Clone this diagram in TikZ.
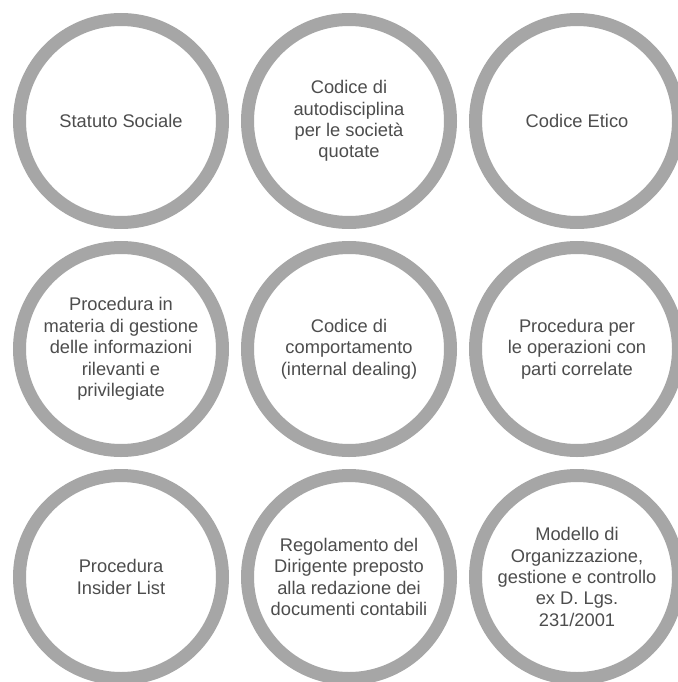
\documentclass[tikz,border=0pt]{standalone}
\usepackage{fontspec}
\setmainfont{Liberation Sans}
\usepackage{xcolor}
\definecolor{RingGray}{HTML}{A6A6A6}
\definecolor{TextGray}{HTML}{4D4D4D}
\usetikzlibrary{positioning}

\begin{document}
\begin{tikzpicture}[x=1pt,y=1pt,
    font=\fontsize{18.3}{21.4}\selectfont,
    node distance=25pt and 25pt,
    ring/.style={shape=circle,
      minimum size=203pt,
      inner sep=0pt,
      outer sep=0pt,
      line width=13pt,
      draw=RingGray,
      fill=white,
      text=TextGray,
      align=center}]
    \path [use as bounding box] (0,0) rectangle (677,-682);

    % row 1
    \node[name=statuto,
      ring,
      at={(121,-121)}] {Statuto Sociale};

    \node[name=autodisc,
      ring,
      right=of statuto] {Codice di\\autodisciplina\\per le società\\quotate};

    \node[name=etico,
      ring,
      right=of autodisc] {Codice Etico};

    % row 2
    \node[name=infopriv,
      ring,
      below=of statuto] {Procedura in\\materia di gestione\\delle informazioni\\rilevanti e\\privilegiate};

    \node[name=dealing,
      ring,
      right=of infopriv] {Codice di\\comportamento\\(internal dealing)};

    \node[name=correlate,
      ring,
      right=of dealing] {Procedura per\\le operazioni con\\parti correlate};

    % row 3
    \node[name=insider,
      ring,
      below=of infopriv] {Procedura\\Insider List};

    \node[name=dirigente,
      ring,
      right=of insider] {Regolamento del\\Dirigente preposto\\alla redazione dei\\documenti contabili};

    \node[name=modello,
      ring,
      right=of dirigente] {Modello di\\Organizzazione,\\gestione e controllo\\ex D. Lgs.\\231/2001};
  \end{tikzpicture}
\end{document}
